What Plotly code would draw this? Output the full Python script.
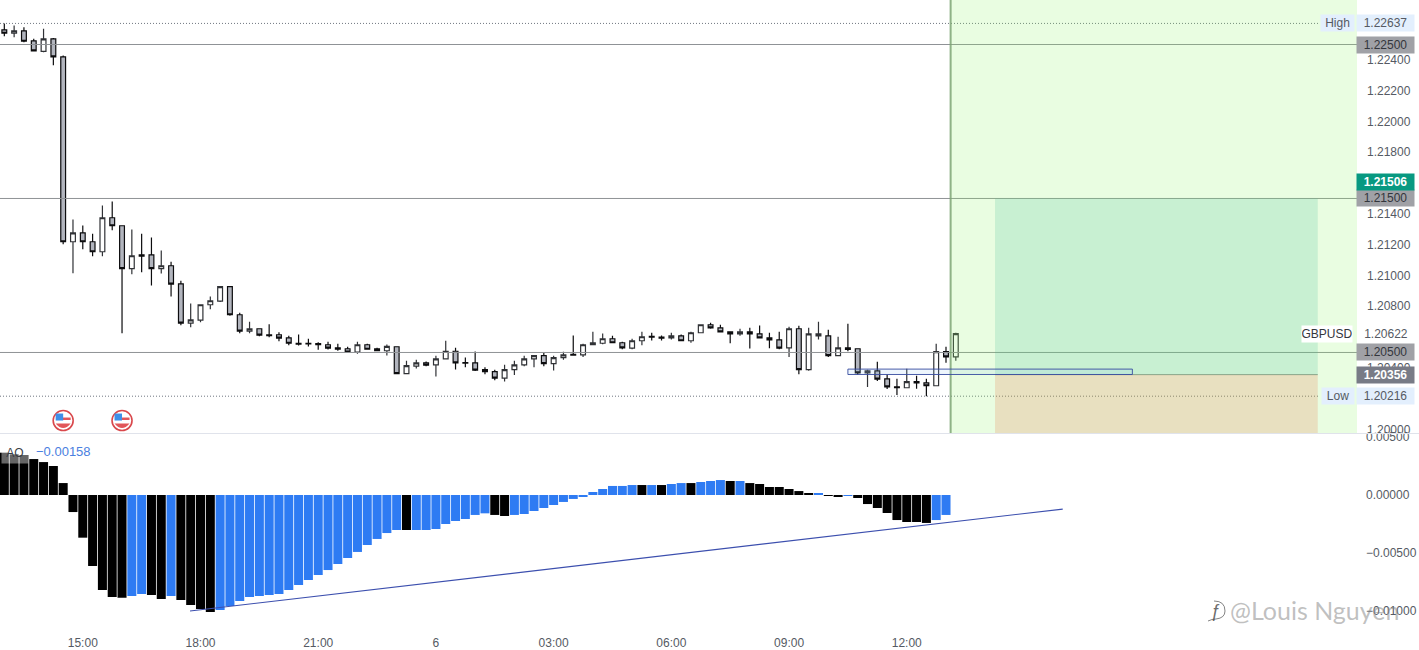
import plotly.graph_objects as go

# ---- data -------------------------------------------------------------
opens = [1.22595,1.22573,1.22589,1.22524,1.22456,1.22537,1.22420,1.21219,1.21277,1.21219,
1.21154,1.21375,1.21323,1.21044,1.21134,1.21134,1.21044,1.21063,1.20946,1.20690,
1.20710,1.20810,1.20833,1.20927,1.20745,1.20638,1.20654,1.20615,1.20615,1.20595,
1.20560,1.20560,1.20558,1.20550,1.20530,1.20524,1.20502,1.20550,1.20524,1.20511,
1.20537,1.20362,1.20411,1.20433,1.20420,1.20459,1.20508,1.20435,1.20433,1.20388,
1.20375,1.20333,1.20388,1.20420,1.20459,1.20479,1.20427,1.20466,1.20487,1.20485,
1.20550,1.20560,1.20589,1.20563,1.20528,1.20576,1.20604,1.20599,1.20595,1.20608,
1.20576,1.20628,1.20680,1.20660,1.20634,1.20621,1.20634,1.20621,1.20595,1.20582,
1.20530,1.20654,1.20388,1.20608,1.20608,1.20479,1.20530,1.20524,1.20368,1.20381,
1.20329,1.20277,1.20271,1.20310,1.20303,1.20284,1.20505,1.20472]
highs = [1.22637,1.22623,1.22612,1.22537,1.22602,1.22543,1.22429,1.21364,1.21325,1.21271,
1.21455,1.21481,1.21325,1.21299,1.21271,1.21247,1.21162,1.21089,1.20966,1.20818,
1.20810,1.20864,1.20927,1.20927,1.20758,1.20699,1.20658,1.20684,1.20632,1.20608,
1.20617,1.20589,1.20567,1.20570,1.20556,1.20537,1.20570,1.20556,1.20530,1.20552,
1.20537,1.20446,1.20453,1.20441,1.20479,1.20576,1.20530,1.20467,1.20506,1.20404,
1.20388,1.20420,1.20446,1.20479,1.20479,1.20498,1.20479,1.20505,1.20610,1.20556,
1.20634,1.20623,1.20608,1.20570,1.20589,1.20634,1.20628,1.20610,1.20628,1.20617,
1.20634,1.20680,1.20693,1.20680,1.20634,1.20654,1.20660,1.20675,1.20628,1.20634,
1.20667,1.20673,1.20660,1.20699,1.20647,1.20602,1.20686,1.20524,1.20388,1.20440,
1.20355,1.20329,1.20394,1.20349,1.20329,1.20556,1.20537,1.20628]
lows = [1.22554,1.22547,1.22515,1.22456,1.22450,1.22366,1.21203,1.21015,1.21171,1.21125,
1.21125,1.21294,1.20625,1.21008,1.21021,1.20935,1.21013,1.20864,1.20677,1.20664,
1.20697,1.20781,1.20827,1.20738,1.20625,1.20625,1.20606,1.20599,1.20573,1.20547,
1.20545,1.20539,1.20518,1.20520,1.20511,1.20500,1.20491,1.20519,1.20508,1.20480,
1.20362,1.20359,1.20396,1.20411,1.20344,1.20456,1.20390,1.20404,1.20379,1.20359,
1.20320,1.20312,1.20353,1.20411,1.20404,1.20411,1.20383,1.20453,1.20479,1.20470,
1.20547,1.20554,1.20560,1.20521,1.20521,1.20547,1.20578,1.20578,1.20584,1.20573,
1.20563,1.20628,1.20654,1.20630,1.20560,1.20608,1.20526,1.20593,1.20528,1.20521,
1.20470,1.20359,1.20381,1.20584,1.20470,1.20479,1.20508,1.20355,1.20275,1.20314,
1.20262,1.20223,1.20271,1.20264,1.20216,1.20284,1.20433,1.20446]
closes = [1.22573,1.22589,1.22521,1.22459,1.22537,1.22420,1.21219,1.21277,1.21219,1.21154,
1.21375,1.21323,1.21044,1.21128,1.21125,1.21044,1.21063,1.20944,1.20690,1.20712,
1.20810,1.20836,1.20927,1.20745,1.20638,1.20654,1.20612,1.20610,1.20593,1.20560,
1.20554,1.20556,1.20550,1.20528,1.20521,1.20502,1.20550,1.20521,1.20511,1.20539,
1.20362,1.20414,1.20433,1.20417,1.20459,1.20508,1.20433,1.20431,1.20385,1.20375,
1.20333,1.20388,1.20420,1.20459,1.20479,1.20427,1.20466,1.20485,1.20483,1.20550,
1.20563,1.20589,1.20563,1.20530,1.20576,1.20602,1.20599,1.20593,1.20608,1.20576,
1.20628,1.20680,1.20660,1.20634,1.20621,1.20634,1.20621,1.20595,1.20582,1.20528,
1.20654,1.20388,1.20621,1.20621,1.20479,1.20530,1.20520,1.20368,1.20381,1.20327,
1.20277,1.20271,1.20310,1.20303,1.20284,1.20505,1.20472,1.20622]

ao_values = [0.00365,0.00351,0.00345,0.00310,0.00284,0.00250,0.00103,-0.00147,-0.00368,-0.00612,
-0.00819,-0.00879,-0.00885,-0.00871,-0.00853,-0.00862,-0.00897,-0.00871,-0.00905,-0.00948,
-0.00983,-0.01009,-0.00991,-0.00957,-0.00914,-0.00879,-0.00871,-0.00862,-0.00853,-0.00819,
-0.00776,-0.00733,-0.00690,-0.00647,-0.00595,-0.00543,-0.00491,-0.00431,-0.00379,-0.00328,
-0.00302,-0.00302,-0.00302,-0.00302,-0.00293,-0.00250,-0.00224,-0.00207,-0.00172,-0.00158,
-0.00172,-0.00181,-0.00172,-0.00164,-0.00138,-0.00112,-0.00086,-0.00060,-0.00034,-0.00017,
0.00026,0.00052,0.00078,0.00078,0.00086,0.00086,0.00086,0.00086,0.00095,0.00103,
0.00103,0.00112,0.00121,0.00129,0.00121,0.00121,0.00103,0.00095,0.00069,0.00069,
0.00052,0.00034,0.00009,0.00009,-0.00003,-0.00015,-0.00004,-0.00026,-0.00078,-0.00112,
-0.00155,-0.00216,-0.00233,-0.00233,-0.00241,-0.00216,-0.00172]
ao_black_bars = list(range(0,13))+[15,16]+list(range(18,22))+[41,50,51,65,67,70,74]+list(range(76,83))+[84,85]+list(range(87,95))

tick_positions = [8,20,32,44,56,68,80,92]
tick_labels = ["15:00","18:00","21:00","6","03:00","06:00","09:00","12:00"]
price_ticks = [1.224,1.222,1.220,1.218,1.214,1.212,1.210,1.208,1.204,1.200]
ao_ticks = [0.005,0.0,-0.005,-0.01]
ao_tick_labels = ["0.00500","0.00000","\u22120.00500","\u22120.01000"]
round_levels = [1.225,1.215,1.205]
high_price, low_price, last_close, last_price, entry_price = 1.22637,1.20216,1.20622,1.21506,1.20356
event_bars = [6,12]
event_price = 1.20058
zone_start, zone_left, zone_right = 96.47,101,133.9
box_left, box_right, box_top, box_bottom = 86,115,1.20392,1.20357
ao_trend_x, ao_trend_y = [18.93,107.9],[-0.0100,-0.00121]

# ---- page geometry ----------------------------------------------------
W,H = 1419,650
PLOT_R = 1357
XMIN,XMAX = -0.44,137.9
PMAX,PMIN = 1.22789,1.19977
AMAX,AMIN = 0.00526,-0.01164
FONT = "Liberation Sans"
TXT = "#555a63"

fig = go.Figure()
bars = list(range(len(opens)))
dotted_x = [XMIN,134]
for lvl in (high_price,low_price):
    fig.add_trace(go.Scatter(x=dotted_x,y=[lvl,lvl],mode="lines",xaxis="x",yaxis="y",
        line=dict(color="#6f7680",width=1,dash="1px 2px"),hoverinfo="skip"))
for lvl in round_levels:
    fig.add_trace(go.Scatter(x=[XMIN,XMAX],y=[lvl,lvl],mode="lines",xaxis="x",yaxis="y",
        line=dict(color="#8f9296",width=1),hoverinfo="skip"))
fig.add_trace(go.Scatter(x=[zone_left,zone_right],y=[entry_price,entry_price],mode="lines",xaxis="x",yaxis="y",
    line=dict(color="#8f9296",width=1),hoverinfo="skip"))

fig.add_trace(go.Candlestick(x=bars,open=opens,high=highs,low=lows,close=closes,xaxis="x",yaxis="y",
    increasing=dict(fillcolor="#ffffff",line=dict(color="#303236",width=1.2)),
    decreasing=dict(fillcolor="#b2b5be",line=dict(color="#0c0c0e",width=1.2)),
    whiskerwidth=0,hoverinfo="skip"))

ao_colors = ["#000000" if i in ao_black_bars else "#2e7bf3" for i in range(len(ao_values))]
fig.add_trace(go.Bar(x=list(range(len(ao_values))),y=ao_values,xaxis="x2",yaxis="y2",
    marker=dict(color=ao_colors,line=dict(width=0)),width=0.92,hoverinfo="skip"))
fig.add_trace(go.Scatter(x=ao_trend_x,y=ao_trend_y,mode="lines",xaxis="x2",yaxis="y2",
    line=dict(color="#3c4fae",width=1.2),hoverinfo="skip"))

shapes = []
# trade zones (drawn over the candles, translucent)
shapes.append(dict(type="rect",xref="x",yref="y",x0=zone_start,x1=XMAX,y0=PMIN,y1=PMAX,
    fillcolor="rgba(145,245,105,0.2)",line_width=0,layer="above"))
shapes.append(dict(type="rect",xref="x",yref="y",x0=zone_left,x1=zone_right,y0=entry_price,y1=1.215,
    fillcolor="rgba(68,188,150,0.2)",line_width=0,layer="above"))
shapes.append(dict(type="rect",xref="x",yref="y",x0=zone_left,x1=zone_right,y0=PMIN,y1=entry_price,
    fillcolor="rgba(228,108,60,0.2)",line_width=0,layer="above"))
shapes.append(dict(type="line",xref="x",yref="y",x0=zone_start,x1=zone_start,y0=PMIN,y1=PMAX,
    line=dict(color="rgba(125,165,115,0.85)",width=2),layer="above"))
shapes.append(dict(type="rect",xref="x",yref="y",x0=box_left,x1=box_right,y0=box_bottom,y1=box_top,
    fillcolor="rgba(150,200,240,0.16)",line=dict(color="rgba(55,75,160,0.9)",width=1),layer="above"))
# pane separator
shapes.append(dict(type="line",xref="paper",yref="paper",x0=0,x1=1,y0=1-433.5/H,y1=1-433.5/H,
    line=dict(color="#e0e3eb",width=1),layer="above"))
# calendar events
for b in event_bars:
    common = dict(xref="x",yref="y",xsizemode="pixel",ysizemode="pixel",xanchor=b,yanchor=event_price,layer="above")
    shapes.append(dict(type="circle",x0=-10,x1=10,y0=-10,y1=10,fillcolor="#ffffff",
        line=dict(color="#d9484c",width=1.6),**common))
    shapes.append(dict(type="path",path="M -7.5 -3 Q 0 -12 7.5 -3 Z",fillcolor="#e2565a",line_width=0,**common))
    shapes.append(dict(type="rect",x0=-1,x1=7.5,y0=0.5,y1=3,fillcolor="#e2565a",line_width=0,**common))
    shapes.append(dict(type="rect",x0=-7.5,x1=0,y0=0,y1=7,fillcolor="#3f8fe8",line_width=0,**common))
# watermark logo ring
shapes.append(dict(type="path",xref="paper",yref="paper",
    path=f"M {1208/W} {1-621/H} Q {1212/W} {1-619/H} {1216/W} {1-619/H} Q {1225/W} {1-618/H} {1225/W} {1-611/H} "
         f"Q {1225/W} {1-601/H} {1214/W} {1-601/H}",
    line=dict(color="rgba(90,90,90,0.75)",width=1),layer="above"))

def label(text,price,bg,color=TXT,bold=False,cx=1385.5,w=57,h=16,shift=0):
    return dict(xref="paper",yref="y",x=cx/W,y=price,text=f"<b>{text}</b>" if bold else text,showarrow=False,
        xanchor="center",yanchor="middle",yshift=shift,
        bgcolor=bg,width=w,height=h,align="center",valign="middle",borderpad=0,
        font=dict(family=FONT,size=12,color=color))

ann = [
    label(f"{high_price:.5f}",high_price,"#e3effd"),
    label("High",high_price,"#e3effd",cx=1337.5,w=33),
    label(f"{round_levels[0]:.5f}",round_levels[0],"#a0a1a6","#33363c"),
    label(f"{round_levels[1]:.5f}",round_levels[1],"#a0a1a6","#33363c"),
    label(f"{last_price:.5f}",last_price,"#089981","#ffffff",bold=True,shift=16),
    label(f"{round_levels[2]:.5f}",round_levels[2],"#a0a1a6","#33363c"),
    label(f"{last_close:.5f}",last_close,"#ffffff",w=50),
    label("GBPUSD",last_close,"#ffffff","#33363c",cx=1327,w=50),
    label(f"{entry_price:.5f}",entry_price,"#787b86","#ffffff",bold=True),
    label(f"{low_price:.5f}",low_price,"#e3effd"),
    label("Low",low_price,"#e3effd",cx=1338,w=32),
    dict(xref="paper",yref="paper",x=15/W,y=1-452.5/H,text="AO",showarrow=False,xanchor="center",yanchor="middle",
         bgcolor="rgba(255,255,255,0.4)",width=26,height=20,borderpad=0,font=dict(family=FONT,size=12,color="#3a3d44")),
    dict(xref="paper",yref="paper",x=63.5/W,y=1-451/H,text="\u22120.00158",showarrow=False,xanchor="center",yanchor="middle",
         font=dict(family=FONT,size=13,color="#4a80e0")),
    dict(xref="paper",yref="paper",x=1314/W,y=1-610/H,text="@Louis Nguyen",showarrow=False,xanchor="center",yanchor="middle",
         font=dict(family="Lato",size=25,color="rgba(130,130,130,0.5)")),
    dict(xref="paper",yref="paper",x=1216/W,y=1-611/H,text="\u0192",showarrow=False,xanchor="center",yanchor="middle",
         font=dict(family=FONT,size=18,color="rgba(70,70,70,0.8)")),
]

fig.update_layout(
    width=W,height=H,autosize=False,margin=dict(l=0,r=0,t=0,b=0,pad=0,autoexpand=False),
    paper_bgcolor="#ffffff",plot_bgcolor="#ffffff",showlegend=False,barmode="overlay",boxgap=0.3,
    font=dict(family=FONT,size=12,color=TXT),shapes=shapes,annotations=ann,
    xaxis=dict(domain=[0,PLOT_R/W],range=[XMIN,XMAX],anchor="y",showgrid=False,zeroline=False,
               showticklabels=False,ticks="",rangeslider=dict(visible=False),showline=False),
    xaxis2=dict(domain=[0,PLOT_R/W],range=[XMIN,XMAX],anchor="y2",matches="x",showgrid=False,zeroline=False,
                tickmode="array",tickvals=tick_positions,ticktext=tick_labels,ticks="",ticklabelstandoff=4,
                tickfont=dict(family=FONT,size=12,color=TXT),showline=False),
    yaxis=dict(domain=[1-433/H,1],range=[PMIN,PMAX],side="right",anchor="x",showgrid=False,zeroline=False,
               tickmode="array",tickvals=price_ticks,ticktext=[f"{v:.5f}" for v in price_ticks],ticks="",
               ticklabelstandoff=9,tickfont=dict(family=FONT,size=12,color=TXT),showline=False),
    yaxis2=dict(domain=[1-630/H,1-434/H],range=[AMIN,AMAX],side="right",anchor="x2",showgrid=False,zeroline=False,
                tickmode="array",tickvals=ao_ticks,ticktext=ao_tick_labels,ticks="",
                ticklabelstandoff=8,tickfont=dict(family=FONT,size=12,color=TXT),showline=False),
)

fig.write_html("out.html",config=dict(displayModeBar=False),
    post_script="document.body.style.margin='0';document.body.style.overflow='hidden';")
